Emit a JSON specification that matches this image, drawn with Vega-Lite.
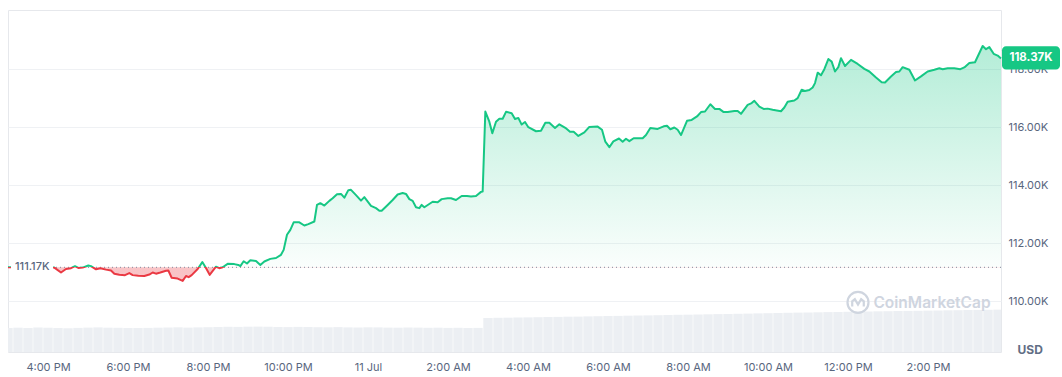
{
"$schema": "https://vega.github.io/schema/vega-lite/v6.json",
"width": 993, "height": 342,
"padding": {"left": 7, "top": 10, "right": 0, "bottom": 0},
"background": "white",
"config": {"view": {"stroke": "#e6e8ec", "strokeWidth": 1}, "scale": {"continuousPadding": 0}},
"datasets": {
"one": [{}],
"price": [
{"t":"2025-07-10T15:00:00","p":111.17},{"t":"2025-07-10T16:09:30","p":111.16},{"t":"2025-07-10T16:19:30","p":110.99},{"t":"2025-07-10T16:27:00","p":111.11},{"t":"2025-07-10T16:34:30","p":111.14},{"t":"2025-07-10T16:40:30","p":111.21},{"t":"2025-07-10T16:45:30","p":111.15},{"t":"2025-07-10T16:52:00","p":111.16},{"t":"2025-07-10T17:00:30","p":111.23},{"t":"2025-07-10T17:04:30","p":111.21},{"t":"2025-07-10T17:12:00","p":111.10},{"t":"2025-07-10T17:18:30","p":111.14},{"t":"2025-07-10T17:27:00","p":111.09},{"t":"2025-07-10T17:34:30","p":111.06},{"t":"2025-07-10T17:39:30","p":110.95},{"t":"2025-07-10T17:47:00","p":110.91},{"t":"2025-07-10T17:55:30","p":110.90},{"t":"2025-07-10T18:02:00","p":110.97},{"t":"2025-07-10T18:07:00","p":110.90},{"t":"2025-07-10T18:15:30","p":110.88},{"t":"2025-07-10T18:24:30","p":110.87},{"t":"2025-07-10T18:32:00","p":110.92},{"t":"2025-07-10T18:37:00","p":110.99},{"t":"2025-07-10T18:42:00","p":110.95},{"t":"2025-07-10T18:48:30","p":110.99},{"t":"2025-07-10T18:57:00","p":111.05},{"t":"2025-07-10T19:00:30","p":111.06},{"t":"2025-07-10T19:05:30","p":110.81},{"t":"2025-07-10T19:14:30","p":110.78},{"t":"2025-07-10T19:22:00","p":110.70},{"t":"2025-07-10T19:27:00","p":110.87},{"t":"2025-07-10T19:31:00","p":110.83},{"t":"2025-07-10T19:35:30","p":110.90},{"t":"2025-07-10T19:44:30","p":111.11},{"t":"2025-07-10T19:51:30","p":111.35},{"t":"2025-07-10T19:56:30","p":111.16},{"t":"2025-07-10T20:02:30","p":110.91},{"t":"2025-07-10T20:12:00","p":111.19},{"t":"2025-07-10T20:17:00","p":111.14},{"t":"2025-07-10T20:22:00","p":111.17},{"t":"2025-07-10T20:29:30","p":111.29},{"t":"2025-07-10T20:39:30","p":111.28},{"t":"2025-07-10T20:45:30","p":111.25},{"t":"2025-07-10T20:48:30","p":111.21},{"t":"2025-07-10T20:53:30","p":111.38},{"t":"2025-07-10T20:58:30","p":111.30},{"t":"2025-07-10T21:03:30","p":111.41},{"t":"2025-07-10T21:12:00","p":111.39},{"t":"2025-07-10T21:18:30","p":111.25},{"t":"2025-07-10T21:24:30","p":111.37},{"t":"2025-07-10T21:33:30","p":111.46},{"t":"2025-07-10T21:42:00","p":111.49},{"t":"2025-07-10T21:49:30","p":111.60},{"t":"2025-07-10T21:53:30","p":111.77},{"t":"2025-07-10T21:58:30","p":112.29},{"t":"2025-07-10T22:03:30","p":112.46},{"t":"2025-07-10T22:08:30","p":112.72},{"t":"2025-07-10T22:17:00","p":112.72},{"t":"2025-07-10T22:24:30","p":112.61},{"t":"2025-07-10T22:30:30","p":112.66},{"t":"2025-07-10T22:39:30","p":112.75},{"t":"2025-07-10T22:43:30","p":113.32},{"t":"2025-07-10T22:48:30","p":113.38},{"t":"2025-07-10T22:54:30","p":113.30},{"t":"2025-07-10T23:02:00","p":113.46},{"t":"2025-07-10T23:07:00","p":113.55},{"t":"2025-07-10T23:13:30","p":113.69},{"t":"2025-07-10T23:19:30","p":113.70},{"t":"2025-07-10T23:24:30","p":113.57},{"t":"2025-07-10T23:30:30","p":113.83},{"t":"2025-07-10T23:34:30","p":113.84},{"t":"2025-07-10T23:42:00","p":113.66},{"t":"2025-07-10T23:49:30","p":113.47},{"t":"2025-07-10T23:54:30","p":113.59},
{"t":"2025-07-11T00:04:30","p":113.29},{"t":"2025-07-11T00:12:00","p":113.21},{"t":"2025-07-11T00:17:00","p":113.12},{"t":"2025-07-11T00:20:30","p":113.12},{"t":"2025-07-11T00:29:30","p":113.32},{"t":"2025-07-11T00:37:00","p":113.49},{"t":"2025-07-11T00:44:30","p":113.68},{"t":"2025-07-11T00:52:00","p":113.73},{"t":"2025-07-11T00:57:00","p":113.70},{"t":"2025-07-11T01:02:00","p":113.52},{"t":"2025-07-11T01:07:00","p":113.46},{"t":"2025-07-11T01:12:00","p":113.24},{"t":"2025-07-11T01:17:00","p":113.21},{"t":"2025-07-11T01:20:30","p":113.32},{"t":"2025-07-11T01:24:30","p":113.24},{"t":"2025-07-11T01:37:00","p":113.43},{"t":"2025-07-11T01:44:30","p":113.41},{"t":"2025-07-11T01:50:30","p":113.52},{"t":"2025-07-11T01:59:30","p":113.55},{"t":"2025-07-11T02:04:30","p":113.55},{"t":"2025-07-11T02:12:00","p":113.49},{"t":"2025-07-11T02:20:30","p":113.63},{"t":"2025-07-11T02:28:30","p":113.63},{"t":"2025-07-11T02:34:30","p":113.61},{"t":"2025-07-11T02:42:00","p":113.63},{"t":"2025-07-11T02:49:30","p":113.77},{"t":"2025-07-11T02:52:00","p":113.78},{"t":"2025-07-11T02:56:00","p":116.54},{"t":"2025-07-11T03:02:00","p":116.19},{"t":"2025-07-11T03:06:30","p":115.79},{"t":"2025-07-11T03:12:00","p":116.19},{"t":"2025-07-11T03:17:00","p":116.29},{"t":"2025-07-11T03:22:00","p":116.29},{"t":"2025-07-11T03:27:00","p":116.53},{"t":"2025-07-11T03:35:30","p":116.48},{"t":"2025-07-11T03:40:30","p":116.28},{"t":"2025-07-11T03:45:30","p":116.32},{"t":"2025-07-11T03:50:30","p":116.09},{"t":"2025-07-11T03:55:30","p":116.18},{"t":"2025-07-11T04:00:30","p":116.00},{"t":"2025-07-11T04:12:00","p":115.86},{"t":"2025-07-11T04:19:30","p":115.88},{"t":"2025-07-11T04:26:00","p":116.15},{"t":"2025-07-11T04:32:00","p":116.15},{"t":"2025-07-11T04:40:30","p":115.97},{"t":"2025-07-11T04:47:00","p":116.10},{"t":"2025-07-11T04:56:00","p":115.98},{"t":"2025-07-11T05:03:00","p":115.84},{"t":"2025-07-11T05:08:30","p":115.84},{"t":"2025-07-11T05:15:30","p":115.70},{"t":"2025-07-11T05:24:30","p":115.82},{"t":"2025-07-11T05:32:00","p":116.01},{"t":"2025-07-11T05:44:30","p":116.02},{"t":"2025-07-11T05:51:00","p":115.91},{"t":"2025-07-11T05:56:00","p":115.50},{"t":"2025-07-11T06:02:00","p":115.31},{"t":"2025-07-11T06:08:00","p":115.51},{"t":"2025-07-11T06:16:30","p":115.61},{"t":"2025-07-11T06:22:00","p":115.50},{"t":"2025-07-11T06:27:00","p":115.60},{"t":"2025-07-11T06:32:00","p":115.52},{"t":"2025-07-11T06:38:30","p":115.62},{"t":"2025-07-11T06:52:00","p":115.62},{"t":"2025-07-11T06:57:00","p":115.73},{"t":"2025-07-11T07:03:30","p":115.97},{"t":"2025-07-11T07:14:30","p":115.94},{"t":"2025-07-11T07:23:30","p":116.03},{"t":"2025-07-11T07:28:30","p":116.05},{"t":"2025-07-11T07:33:30","p":115.93},{"t":"2025-07-11T07:39:30","p":115.99},{"t":"2025-07-11T07:44:30","p":115.91},{"t":"2025-07-11T07:49:30","p":115.73},{"t":"2025-07-11T07:58:30","p":116.22},{"t":"2025-07-11T08:05:30","p":116.25},{"t":"2025-07-11T08:13:30","p":116.37},{"t":"2025-07-11T08:19:30","p":116.52},{"t":"2025-07-11T08:25:30","p":116.54},{"t":"2025-07-11T08:33:30","p":116.79},{"t":"2025-07-11T08:40:30","p":116.63},{"t":"2025-07-11T08:47:00","p":116.63},{"t":"2025-07-11T08:53:30","p":116.52},{"t":"2025-07-11T08:59:30","p":116.52},{"t":"2025-07-11T09:09:30","p":116.56},{"t":"2025-07-11T09:14:30","p":116.56},{"t":"2025-07-11T09:19:30","p":116.46},{"t":"2025-07-11T09:29:30","p":116.77},{"t":"2025-07-11T09:35:30","p":116.83},{"t":"2025-07-11T09:39:30","p":116.91},{"t":"2025-07-11T09:47:00","p":116.71},{"t":"2025-07-11T09:53:30","p":116.63},{"t":"2025-07-11T09:59:30","p":116.64},{"t":"2025-07-11T10:07:00","p":116.60},{"t":"2025-07-11T10:19:30","p":116.55},{"t":"2025-07-11T10:24:30","p":116.68},{"t":"2025-07-11T10:29:30","p":116.88},{"t":"2025-07-11T10:39:30","p":116.92},{"t":"2025-07-11T10:44:30","p":117.00},{"t":"2025-07-11T10:50:30","p":117.29},{"t":"2025-07-11T10:55:30","p":117.25},{"t":"2025-07-11T11:02:00","p":117.28},{"t":"2025-07-11T11:07:00","p":117.37},{"t":"2025-07-11T11:10:30","p":117.52},{"t":"2025-07-11T11:14:30","p":117.88},{"t":"2025-07-11T11:19:30","p":117.79},{"t":"2025-07-11T11:24:30","p":118.00},{"t":"2025-07-11T11:30:30","p":118.35},{"t":"2025-07-11T11:35:30","p":118.26},{"t":"2025-07-11T11:40:30","p":117.92},{"t":"2025-07-11T11:45:30","p":118.07},{"t":"2025-07-11T11:49:30","p":118.38},{"t":"2025-07-11T11:55:30","p":118.11},{"t":"2025-07-11T12:04:30","p":118.32},{"t":"2025-07-11T12:14:30","p":118.18},{"t":"2025-07-11T12:24:30","p":118.01},{"t":"2025-07-11T12:32:00","p":117.92},{"t":"2025-07-11T12:42:00","p":117.71},{"t":"2025-07-11T12:50:30","p":117.55},{"t":"2025-07-11T12:55:30","p":117.54},{"t":"2025-07-11T13:04:30","p":117.75},{"t":"2025-07-11T13:12:00","p":117.90},{"t":"2025-07-11T13:17:00","p":117.92},{"t":"2025-07-11T13:22:00","p":118.07},{"t":"2025-07-11T13:32:00","p":117.98},{"t":"2025-07-11T13:40:30","p":117.61},{"t":"2025-07-11T13:49:30","p":117.75},{"t":"2025-07-11T13:59:30","p":117.92},{"t":"2025-07-11T14:09:30","p":117.98},{"t":"2025-07-11T14:17:00","p":118.03},{"t":"2025-07-11T14:22:00","p":118.00},{"t":"2025-07-11T14:29:30","p":118.03},{"t":"2025-07-11T14:39:30","p":118.03},{"t":"2025-07-11T14:48:30","p":118.00},{"t":"2025-07-11T14:54:30","p":118.06},{"t":"2025-07-11T15:02:00","p":118.21},{"t":"2025-07-11T15:10:30","p":118.24},{"t":"2025-07-11T15:22:00","p":118.80},{"t":"2025-07-11T15:27:00","p":118.69},{"t":"2025-07-11T15:32:00","p":118.76},{"t":"2025-07-11T15:38:30","p":118.53},{"t":"2025-07-11T15:44:30","p":118.47},{"t":"2025-07-11T15:49:30","p":118.37}
],
"vol": [
{"t":"2025-07-10T15:00:00","v":24.0},{"t":"2025-07-10T15:15:00","v":24.3},{"t":"2025-07-10T15:30:00","v":24.1},{"t":"2025-07-10T15:45:00","v":24.5},{"t":"2025-07-10T16:00:00","v":24.2},{"t":"2025-07-10T16:15:00","v":24.0},{"t":"2025-07-10T16:30:00","v":23.8},{"t":"2025-07-10T16:45:00","v":24.1},{"t":"2025-07-10T17:00:00","v":24.4},{"t":"2025-07-10T17:15:00","v":24.6},{"t":"2025-07-10T17:30:00","v":24.3},{"t":"2025-07-10T17:45:00","v":24.2},{"t":"2025-07-10T18:00:00","v":24.0},{"t":"2025-07-10T18:15:00","v":23.9},{"t":"2025-07-10T18:30:00","v":24.1},{"t":"2025-07-10T18:45:00","v":24.3},{"t":"2025-07-10T19:00:00","v":24.5},{"t":"2025-07-10T19:15:00","v":24.7},{"t":"2025-07-10T19:30:00","v":24.4},{"t":"2025-07-10T19:45:00","v":24.6},{"t":"2025-07-10T20:00:00","v":24.8},{"t":"2025-07-10T20:15:00","v":25.0},{"t":"2025-07-10T20:30:00","v":25.2},{"t":"2025-07-10T20:45:00","v":25.1},{"t":"2025-07-10T21:00:00","v":25.3},{"t":"2025-07-10T21:15:00","v":25.4},{"t":"2025-07-10T21:30:00","v":25.2},{"t":"2025-07-10T21:45:00","v":25.0},{"t":"2025-07-10T22:00:00","v":24.9},{"t":"2025-07-10T22:15:00","v":25.1},{"t":"2025-07-10T22:30:00","v":25.0},{"t":"2025-07-10T22:45:00","v":24.8},{"t":"2025-07-10T23:00:00","v":24.7},{"t":"2025-07-10T23:15:00","v":24.9},{"t":"2025-07-10T23:30:00","v":24.6},{"t":"2025-07-10T23:45:00","v":24.5},
{"t":"2025-07-11T00:00:00","v":24.7},{"t":"2025-07-11T00:15:00","v":24.6},{"t":"2025-07-11T00:30:00","v":24.4},{"t":"2025-07-11T00:45:00","v":24.3},{"t":"2025-07-11T01:00:00","v":24.5},{"t":"2025-07-11T01:15:00","v":24.4},{"t":"2025-07-11T01:30:00","v":24.2},{"t":"2025-07-11T01:45:00","v":24.3},{"t":"2025-07-11T02:00:00","v":24.1},{"t":"2025-07-11T02:15:00","v":24.2},{"t":"2025-07-11T02:30:00","v":24.0},{"t":"2025-07-11T02:45:00","v":24.1},{"t":"2025-07-11T03:00:00","v":34.0},{"t":"2025-07-11T03:15:00","v":34.2},{"t":"2025-07-11T03:30:00","v":34.3},{"t":"2025-07-11T03:45:00","v":34.5},{"t":"2025-07-11T04:00:00","v":34.6},{"t":"2025-07-11T04:15:00","v":34.8},{"t":"2025-07-11T04:30:00","v":35.0},{"t":"2025-07-11T04:45:00","v":35.1},{"t":"2025-07-11T05:00:00","v":35.3},{"t":"2025-07-11T05:15:00","v":35.4},{"t":"2025-07-11T05:30:00","v":35.6},{"t":"2025-07-11T05:45:00","v":35.8},{"t":"2025-07-11T06:00:00","v":36.0},{"t":"2025-07-11T06:15:00","v":36.1},{"t":"2025-07-11T06:30:00","v":36.3},{"t":"2025-07-11T06:45:00","v":36.5},{"t":"2025-07-11T07:00:00","v":36.6},{"t":"2025-07-11T07:15:00","v":36.8},{"t":"2025-07-11T07:30:00","v":37.0},{"t":"2025-07-11T07:45:00","v":37.2},{"t":"2025-07-11T08:00:00","v":37.3},{"t":"2025-07-11T08:15:00","v":37.5},{"t":"2025-07-11T08:30:00","v":37.7},{"t":"2025-07-11T08:45:00","v":37.9},{"t":"2025-07-11T09:00:00","v":38.0},{"t":"2025-07-11T09:15:00","v":38.2},{"t":"2025-07-11T09:30:00","v":38.4},{"t":"2025-07-11T09:45:00","v":38.6},{"t":"2025-07-11T10:00:00","v":38.8},{"t":"2025-07-11T10:15:00","v":39.0},{"t":"2025-07-11T10:30:00","v":39.2},{"t":"2025-07-11T10:45:00","v":39.4},{"t":"2025-07-11T11:00:00","v":39.5},{"t":"2025-07-11T11:15:00","v":39.7},{"t":"2025-07-11T11:30:00","v":39.9},{"t":"2025-07-11T11:45:00","v":40.0},{"t":"2025-07-11T12:00:00","v":40.2},{"t":"2025-07-11T12:15:00","v":40.4},{"t":"2025-07-11T12:30:00","v":40.5},{"t":"2025-07-11T12:45:00","v":40.7},{"t":"2025-07-11T13:00:00","v":40.8},{"t":"2025-07-11T13:15:00","v":41.0},{"t":"2025-07-11T13:30:00","v":41.1},{"t":"2025-07-11T13:45:00","v":41.2},{"t":"2025-07-11T14:00:00","v":41.4},{"t":"2025-07-11T14:15:00","v":41.5},{"t":"2025-07-11T14:30:00","v":41.7},{"t":"2025-07-11T14:45:00","v":41.8},{"t":"2025-07-11T15:00:00","v":42.0},{"t":"2025-07-11T15:15:00","v":42.1},{"t":"2025-07-11T15:30:00","v":42.2},{"t":"2025-07-11T15:45:00","v":42.4}
]
},
"resolve": {"scale": {"y": "independent"}},
"layer": [
{
"data": {"name": "vol"},
"mark": {"type": "bar", "size": 9.4, "color": "#eceff3", "clip": true},
"encoding": {
"x": {"field": "t", "type": "temporal", "scale": {"padding": 0, "domain": [{"year": 2025, "month": 7, "date": 10, "hours": 15}, {"year": 2025, "month": 7, "date": 11, "hours": 15, "minutes": 49, "seconds": 30}]},
 "axis": {"orient": "bottom", "domain": false, "ticks": false, "grid": false, "labelPadding": 9, "labelColor": "#58667e", "labelFontSize": 11, "labelFont": "Inter", "title": null,
  "values": [{"year": 2025, "month": 7, "date": 10, "hours": 16}, {"year": 2025, "month": 7, "date": 10, "hours": 18}, {"year": 2025, "month": 7, "date": 10, "hours": 20}, {"year": 2025, "month": 7, "date": 10, "hours": 22}, {"year": 2025, "month": 7, "date": 11, "hours": 0}, {"year": 2025, "month": 7, "date": 11, "hours": 2}, {"year": 2025, "month": 7, "date": 11, "hours": 4}, {"year": 2025, "month": 7, "date": 11, "hours": 6}, {"year": 2025, "month": 7, "date": 11, "hours": 8}, {"year": 2025, "month": 7, "date": 11, "hours": 10}, {"year": 2025, "month": 7, "date": 11, "hours": 12}, {"year": 2025, "month": 7, "date": 11, "hours": 14}],
  "labelExpr": "timeFormat(datum.value, '%H') === '00' ? timeFormat(datum.value, '%-d %b') : timeFormat(datum.value, '%-I:%M %p')"}},
"y": {"field": "v", "type": "quantitative", "axis": null, "scale": {"domain": [0, 342]}}
}
},
{
"layer": [
{
"data": {"name": "price"},
"mark": {"type": "area", "fill": {"gradient": "linear", "x1": 0, "y1": 0, "x2": 0, "y2": 1, "stops": [{"offset": 0, "color": "rgba(22,199,132,0.32)"}, {"offset": 0.941, "color": "rgba(22,199,132,0.02)"}, {"offset": 0.942, "color": "rgba(234,57,67,0.3)"}, {"offset": 1, "color": "rgba(234,57,67,0.3)"}]}},
"encoding": {
"x": {"field": "t", "type": "temporal"},
"y": {"field": "p", "type": "quantitative", "scale": {"domain": [108.25, 120.04], "zero": false, "nice": false},
 "axis": {"orient": "right", "values": [110, 112, 114, 116, 118], "grid": true, "gridColor": "#eff1f4", "domain": false, "ticks": false, "labelPadding": 7, "labelColor": "#58667e", "labelFontSize": 11, "labelFont": "Inter", "labelExpr": "format(datum.value, '.2f') + 'K'", "title": "USD", "titleFont": "Inter", "titleAngle": 0, "titleAlign": "left", "titleBaseline": "middle", "titleX": 16, "titleY": 339, "titleFontSize": 12, "titleFontWeight": "bold", "titleColor": "#616e85"}},
"y2": {"datum": 111.17}
}
},
{
"data": {"name": "one"},
"mark": {"type": "rule", "stroke": "#808a9d", "strokeWidth": 1, "strokeDash": [1, 3]},
"encoding": {"y": {"datum": 111.17, "type": "quantitative"}}
},
{
"data": {"name": "price"},
"mark": {"type": "line", "strokeWidth": 2, "strokeJoin": "round", "stroke": {"gradient": "linear", "x1": 0, "y1": 0, "x2": 0, "y2": 1, "stops": [{"offset": 0, "color": "#16c784"}, {"offset": 0.942, "color": "#16c784"}, {"offset": 0.942, "color": "#ea3943"}, {"offset": 1, "color": "#ea3943"}]}},
"encoding": {
"x": {"field": "t", "type": "temporal"},
"y": {"field": "p", "type": "quantitative"}
}
},
{
"data": {"name": "one"},
"mark": {"type": "rect", "color": "white"},
"encoding": {
"x": {"datum": {"year": 2025, "month": 7, "date": 10, "hours": 15, "minutes": 4, "seconds": 30}, "type": "temporal"},
"x2": {"datum": {"year": 2025, "month": 7, "date": 10, "hours": 16, "minutes": 7, "seconds": 30}},
"y": {"datum": 111.45, "type": "quantitative"},
"y2": {"datum": 110.9}
}
},
{
"data": {"name": "one"},
"mark": {"type": "text", "text": "111.17K", "align": "left", "baseline": "middle", "fontSize": 11, "fontWeight": 500, "color": "#58667e", "font": "Inter"},
"encoding": {
"x": {"datum": {"year": 2025, "month": 7, "date": 10, "hours": 15, "minutes": 10, "seconds": 30}, "type": "temporal"},
"y": {"datum": 111.17, "type": "quantitative"}
}
},
{
"data": {"name": "one"},
"mark": {"type": "point", "shape": "circle", "size": 441, "filled": false, "stroke": "#cfd5df", "strokeWidth": 2.2, "opacity": 1},
"encoding": {
"x": {"datum": {"year": 2025, "month": 7, "date": 11, "hours": 12, "minutes": 15}, "type": "temporal"},
"y": {"datum": 109.96, "type": "quantitative"}
}
},
{
"data": {"name": "one"},
"mark": {"type": "point", "shape": "M-0.55,0.4 L-0.55,-0.1 L-0.3,-0.3 L0,0.2 L0.3,-0.3 L0.55,-0.1 L0.55,0.4", "size": 441, "filled": false, "stroke": "#cfd5df", "strokeWidth": 2.2, "opacity": 1},
"encoding": {
"x": {"datum": {"year": 2025, "month": 7, "date": 11, "hours": 12, "minutes": 15}, "type": "temporal"},
"y": {"datum": 109.96, "type": "quantitative"}
}
},
{
"data": {"name": "one"},
"mark": {"type": "text", "text": "CoinMarketCap", "align": "center", "baseline": "middle", "fontSize": 15.5, "fontWeight": 600, "color": "#cfd5df", "font": "Inter"},
"encoding": {
"x": {"datum": {"year": 2025, "month": 7, "date": 11, "hours": 14, "minutes": 6}, "type": "temporal"},
"y": {"datum": 109.94, "type": "quantitative"}
}
},
{
"data": {"name": "one"},
"mark": {"type": "rect", "color": "#16c784", "cornerRadius": 4},
"encoding": {
"x": {"datum": {"year": 2025, "month": 7, "date": 11, "hours": 15, "minutes": 51}, "type": "temporal"},
"x2": {"datum": {"year": 2025, "month": 7, "date": 11, "hours": 17, "minutes": 18}},
"y": {"datum": 118.79, "type": "quantitative"},
"y2": {"datum": 117.99}
}
},
{
"data": {"name": "one"},
"mark": {"type": "text", "text": "118.37K", "align": "center", "baseline": "middle", "fontSize": 11.5, "fontWeight": "bold", "color": "white", "font": "Inter"},
"encoding": {
"x": {"datum": {"year": 2025, "month": 7, "date": 11, "hours": 16, "minutes": 34, "seconds": 30}, "type": "temporal"},
"y": {"datum": 118.39, "type": "quantitative"}
}
}
]
}
]
}
